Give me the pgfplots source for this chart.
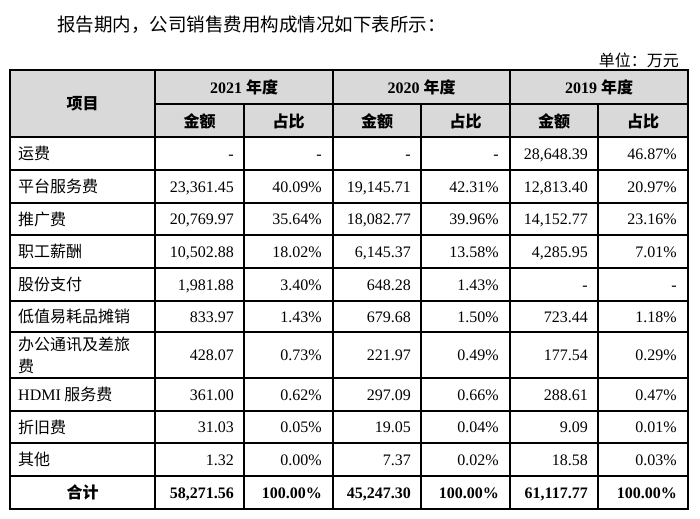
\documentclass[border=0pt]{standalone}
\usepackage{pgfplots}
\usepackage{pgfplotstable}
\pgfplotsset{compat=1.18}
\usepackage{fontspec}
\setmainfont{Liberation Serif}
\newfontfamily\cjk{Noto Sans CJK SC}
\definecolor{headgray}{HTML}{D9D9D9}

% rows: y centre of the cell (pixels from the top), then the cells
\pgfplotstableread{
y name a21 p21 a20 p20 a19 p19
153.5 运费 - - - - 28,648.39 46.87\%
186.5 平台服务费 23,361.45 40.09\% 19,145.71 42.31\% 12,813.40 20.97\%
219 推广费 20,769.97 35.64\% 18,082.77 39.96\% 14,152.77 23.16\%
251.5 职工薪酬 10,502.88 18.02\% 6,145.37 13.58\% 4,285.95 7.01\%
284.5 股份支付 1,981.88 3.40\% 648.28 1.43\% - -
316.5 低值易耗品摊销 833.97 1.43\% 679.68 1.50\% 723.44 1.18\%
355 {办公通讯及差旅\\费} 428.07 0.73\% 221.97 0.49\% 177.54 0.29\%
394.5 {{\rmfamily HDMI} 服务费} 361.00 0.62\% 297.09 0.66\% 288.61 0.47\%
427 折旧费 31.03 0.05\% 19.05 0.04\% 9.09 0.01\%
459.5 其他 1.32 0.00\% 7.37 0.02\% 18.58 0.03\%
}\rows

\pgfplotstableread{
y a21 p21 a20 p20 a19 p19
492.5 58,271.56 100.00\% 45,247.30 100.00\% 61,117.77 100.00\%
}\total

\pgfplotsset{
  cell/.style={draw=none, mark=none, nodes near coords, point meta=explicit symbolic,
    nodes near coords style={anchor=base east, inner sep=0pt, yshift=-5.5bp,
      font={\fontsize{16bp}{22bp}\selectfont}}},
  boldcell/.style={cell, nodes near coords style={font={\fontsize{16bp}{22bp}\selectfont\bfseries}}},
}

\begin{document}
\begin{tikzpicture}
\begin{axis}[
  at={(0,0)}, anchor=south west,
  width=700bp, height=518bp, scale only axis,
  xmin=0, xmax=700, ymin=0, ymax=518, y dir=reverse,
  hide axis, clip=false,
]
% keep the whole page
\path (axis cs:0,0) rectangle (axis cs:700,518);
% header shading
\fill[headgray] (axis cs:10,70) rectangle (axis cs:688,137);

% title and unit
\node[anchor=west, inner sep=0pt, font={\cjk\fontsize{18.5bp}{22bp}\selectfont}]
  at (axis cs:57,25) {报告期内，公司销售费用构成情况如下表所示：};
\node[anchor=east, inner sep=0pt, font={\cjk\fontsize{16bp}{22bp}\selectfont}]
  at (axis cs:679,60) {单位：万元};

% grid
\pgfplotsinvokeforeach{137,170,203,235,268,301,332,378,411,443,476}{
  \draw[line width=1.3bp] (axis cs:10,#1) -- (axis cs:688,#1);
}
\draw[line width=1.3bp] (axis cs:155,104) -- (axis cs:688,104);
\pgfplotsinvokeforeach{155,333,510}{
  \draw[line width=1.3bp] (axis cs:#1,70) -- (axis cs:#1,509);
}
\pgfplotsinvokeforeach{244,421,598}{
  \draw[line width=1.3bp] (axis cs:#1,104) -- (axis cs:#1,509);
}
\draw[line width=2.6bp] (axis cs:10,70) rectangle (axis cs:688,509);

% header text
\node[font={\cjk\bfseries\fontsize{16bp}{22bp}\selectfont}] at (axis cs:82.5,103.5) {项目};
\node[font={\bfseries\fontsize{16bp}{22bp}\selectfont}] at (axis cs:244,87) {2021 {\cjk 年度}};
\node[font={\bfseries\fontsize{16bp}{22bp}\selectfont}] at (axis cs:421.5,87) {2020 {\cjk 年度}};
\node[font={\bfseries\fontsize{16bp}{22bp}\selectfont}] at (axis cs:599,87) {2019 {\cjk 年度}};
\node[font={\cjk\bfseries\fontsize{16bp}{22bp}\selectfont}] at (axis cs:199.5,121) {金额};
\node[font={\cjk\bfseries\fontsize{16bp}{22bp}\selectfont}] at (axis cs:288.5,121) {占比};
\node[font={\cjk\bfseries\fontsize{16bp}{22bp}\selectfont}] at (axis cs:377,121) {金额};
\node[font={\cjk\bfseries\fontsize{16bp}{22bp}\selectfont}] at (axis cs:465.5,121) {占比};
\node[font={\cjk\bfseries\fontsize{16bp}{22bp}\selectfont}] at (axis cs:554,121) {金额};
\node[font={\cjk\bfseries\fontsize{16bp}{22bp}\selectfont}] at (axis cs:643,121) {占比};
\node[font={\cjk\bfseries\fontsize{16bp}{22bp}\selectfont}] at (axis cs:82.5,492.5) {合计};

% item names
\addplot[draw=none, mark=none, nodes near coords, point meta=explicit symbolic,
  nodes near coords style={anchor=west, align=left, inner sep=0pt,
    font={\cjk\fontsize{16bp}{22bp}\selectfont}}]
  table[x expr=18, y=y, meta=name] {\rows};

% values
\addplot[cell] table[x expr=234, y=y, meta=a21] {\rows};
\addplot[cell] table[x expr=322, y=y, meta=p21] {\rows};
\addplot[cell] table[x expr=411, y=y, meta=a20] {\rows};
\addplot[cell] table[x expr=499, y=y, meta=p20] {\rows};
\addplot[cell] table[x expr=588, y=y, meta=a19] {\rows};
\addplot[cell] table[x expr=677, y=y, meta=p19] {\rows};

\addplot[boldcell] table[x expr=234, y=y, meta=a21] {\total};
\addplot[boldcell] table[x expr=322, y=y, meta=p21] {\total};
\addplot[boldcell] table[x expr=411, y=y, meta=a20] {\total};
\addplot[boldcell] table[x expr=499, y=y, meta=p20] {\total};
\addplot[boldcell] table[x expr=588, y=y, meta=a19] {\total};
\addplot[boldcell] table[x expr=677, y=y, meta=p19] {\total};
\end{axis}
\end{tikzpicture}
\end{document}
